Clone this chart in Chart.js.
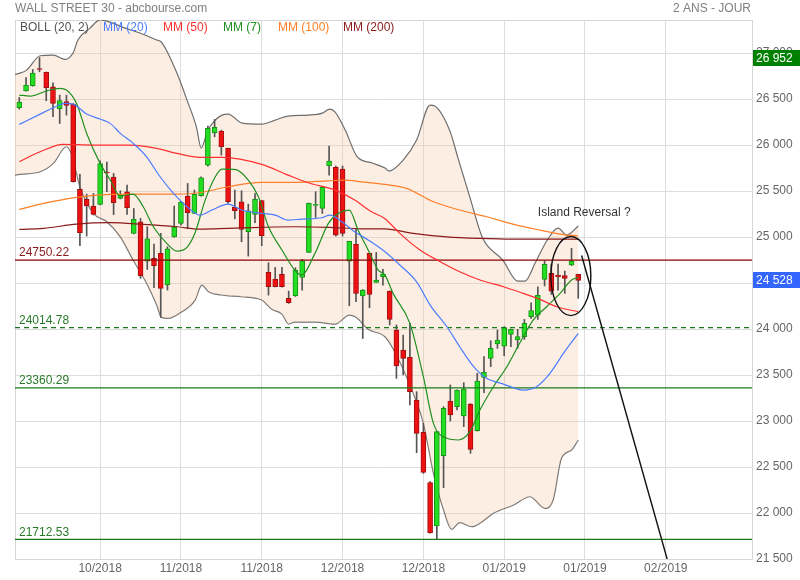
<!DOCTYPE html>
<html>
<head>
<meta charset="utf-8">
<title>Wall Street 30</title>
<script src="https://cdn.jsdelivr.net/npm/chart.js@4.4.1/dist/chart.umd.min.js"></script>
<style>
  html, body { margin: 0; padding: 0; background: #fff; }
  #c { display: block; }
</style>
</head>
<body>
<canvas id="c" width="800" height="580"></canvas>
<script>
// Daily candles (index 0 = first candle on the left)
const opens  = [26406, 26590, 26645, 26828, 26790, 26634, 26395, 26474, 26445, 25518,
                25409, 25337, 25355, 25703, 25652, 25420, 25493, 25040, 25166, 24739,
                24768, 24822, 24482, 25003, 25148, 25445, 25257, 25449, 25782, 26134,
                26152, 25964, 25322, 25384, 25058, 25246, 25398, 24616, 24543, 24594,
                24333, 24362, 24561, 24833, 25345, 25311, 25775, 25757, 25739, 24739,
                24920, 24359, 24822, 24507, 24569, 24413, 23989, 23772, 23692, 23229,
                22877, 22330, 21859, 22624, 23218, 23156, 23055, 23185, 22895, 23475,
                23681, 23837, 23815, 23942, 23881, 23917, 24134, 24152, 24540, 24605,
                24587, 24580, 24696, 24594];
const highs  = [26518, 26735, 26822, 26952, 26795, 26677, 26543, 26543, 26450, 25681,
                25467, 25474, 25829, 25815, 25692, 25503, 25565, 25311, 25203, 25112,
                24924, 25040, 24895, 25337, 25385, 25583, 25511, 25656, 26206, 26279,
                26163, 25968, 25511, 25503, 25358, 25474, 25400, 24721, 24670, 24670,
                24413, 24666, 24757, 25370, 25493, 25547, 25989, 25772, 25772, 24955,
                25094, 24430, 24825, 24833, 24648, 24415, 24044, 23935, 24062, 23319,
                22975, 22341, 22884, 23156, 23392, 23340, 23417, 23190, 23518, 23700,
                23873, 23989, 24026, 24000, 23997, 24105, 24286, 24460, 24739, 24707,
                24707, 24631, 24877, 24596];
const lows   = [26391, 26585, 26640, 26797, 26482, 26308, 26235, 26326, 25598, 24906,
                25011, 25240, 25350, 25493, 25243, 25415, 25246, 25035, 24551, 24648,
                24449, 24127, 24424, 24998, 25130, 25090, 25255, 25445, 25772, 26090,
                25891, 25366, 25199, 24949, 24793, 25156, 24906, 24369, 24458, 24455,
                24279, 24355, 24424, 24830, 25214, 25257, 25674, 25011, 25011, 24253,
                24297, 23898, 24232, 24505, 24478, 24044, 23464, 23500, 23174, 22656,
                22431, 21780, 21712.53, 22276, 23000, 23120, 22939, 22649, 22890, 23308,
                23591, 23790, 23710, 23808, 23790, 23888, 24116, 24105, 24468, 24377,
                24424, 24388, 24690, 24334];
const closes = [26467, 26652, 26782, 26822, 26623, 26453, 26485, 26431, 25601, 25047,
                25340, 25246, 25800, 25697, 25373, 25453, 25319, 25192, 24580, 24982,
                24688, 24442, 24873, 25112, 25380, 25264, 25464, 25645, 26181, 26192,
                25982, 25384, 25286, 25083, 25286, 25409, 25014, 24460, 24460, 24460,
                24286, 24641, 24743, 25366, 25350, 25540, 25826, 25021, 25040, 24953,
                24388, 24424, 24377, 24533, 24598, 24105, 23598, 23681, 23319, 22866,
                22442, 21787, 22884, 23138, 23066, 23337, 23348, 22692, 23435, 23529,
                23790, 23881, 24015, 23997, 23917, 24062, 24200, 24366, 24703, 24413,
                24569, 24551, 24739, 24528];

// Indicators as [candle index, value]
const bollUpper = [[-0.64, 26769], [0, 26780], [1.1, 26815], [3.1, 26971], [5.05, 26978], [6.8, 26932],
  [8, 27004], [8.7, 27142], [10.5, 27272], [12, 27365], [13.5, 27337], [15.3, 27283], [17.9, 27218],
  [20.4, 27142], [21.1, 27120], [23.4, 26783], [24.9, 26489], [26.3, 26196], [27, 25968], [28, 26163],
  [29.1, 26272], [30.1, 26326], [31, 26337], [33.1, 26239], [36, 26228], [38, 26272], [39.9, 26315],
  [42.9, 26326], [45, 26348], [46.1, 26392], [46.9, 26359], [48.4, 26163], [50.1, 25881], [52.4, 25805],
  [54.3, 25750], [54.9, 25718], [57, 25837], [59, 26055], [61, 26435], [61.7, 26424], [64, 26141],
  [65.1, 25870], [66.9, 25435], [68.8, 24989], [71.8, 24750], [74, 24522], [75.1, 24522], [76.6, 24718],
  [78.4, 24968], [80, 25098], [81.3, 25022], [83, 25120]];
const bollLower = [[-0.64, 25674], [0, 25682], [3.1, 25710], [5.05, 25801], [7, 25982], [7.8, 25891],
  [9, 25547], [11, 25258], [13, 25167], [15, 25003], [16.9, 24750], [18.9, 24497], [20.4, 24261],
  [21.1, 24127], [22.1, 24116], [23.9, 24177], [26.1, 24315], [27.1, 24478], [28.1, 24406], [30, 24370],
  [33, 24351], [36, 24315], [37.5, 24214], [39, 24163], [40, 24054], [40.9, 24076], [43.9, 24076],
  [46.9, 24054], [49, 24152], [50, 24127], [51.8, 23997], [54.3, 23916], [55.6, 23772], [58.5, 23301],
  [60, 22975], [61.5, 22432], [63, 22033], [64.2, 21823], [65.4, 21895], [67.2, 21851], [68.4, 21888],
  [70.4, 21997], [73.4, 22087], [75.8, 22177], [78.1, 22051], [79.3, 22149], [80.5, 22595], [82, 22685],
  [83, 22794]];
const mm20 = [[0, 26225], [3.1, 26337], [5.05, 26406], [6.8, 26453], [8, 26445], [10, 26337], [12, 26283],
  [13.5, 26236], [15, 26127], [16.9, 26019], [18.9, 25873], [20.9, 25656], [22.9, 25475], [24.9, 25330],
  [26.8, 25239], [28.6, 25294], [31, 25359], [33, 25294], [36, 25258], [38, 25239], [39.9, 25185],
  [41.9, 25196], [44.9, 25210], [46.1, 25239], [47.9, 25167], [49.8, 25058], [51.8, 24968], [54.3, 24840],
  [56.5, 24696], [59, 24514], [61, 24261], [63.5, 24025], [65.4, 23808], [67.4, 23598], [69.4, 23464],
  [71.9, 23402], [74.8, 23337], [76.8, 23373], [78.8, 23519], [80.8, 23736], [83, 23953]];
const mm50 = [[0, 25819], [3.1, 25927], [6.5, 26008], [11, 26000], [16.4, 26000], [20.4, 25964],
  [23.4, 25910], [26.8, 25866], [30.1, 25866], [36, 25790], [39.9, 25674], [42.9, 25590], [46.9, 25511],
  [49.8, 25402], [52.3, 25275], [54.3, 25200], [56.5, 25040], [59.5, 24859], [62.5, 24732], [65.4, 24623],
  [68.4, 24533], [71.9, 24460], [74.8, 24388], [77.3, 24323], [79.8, 24243], [83, 24188]];
const mm7 = [[0, 26544], [1.6, 26533], [4.1, 26590], [6, 26616], [7, 26598], [8.5, 26453], [10, 26127],
  [12, 25801], [13.5, 25620], [15, 25446], [16.9, 25468], [18.4, 25330], [19.9, 25112], [21.9, 24932],
  [23.4, 24848], [24.9, 24888], [26.1, 25047], [27.6, 25402], [29.1, 25656], [30.1, 25739], [32, 25736],
  [34, 25620], [35.5, 25438], [37, 25112], [39, 24859], [40.9, 24641], [41.9, 24587], [43.9, 24823],
  [45.9, 25149], [47.4, 25258], [49, 25294], [50.3, 25076], [51.8, 24859], [53.3, 24641], [54.3, 24587],
  [55.5, 24388], [58, 24062], [60, 23482], [61.5, 22975], [63.5, 22812], [65.2, 22794], [66.9, 22884],
  [68.4, 23120], [70.4, 23373], [72.4, 23590], [74.3, 23845], [76.3, 24098], [78.3, 24243], [80.3, 24388],
  [82, 24533], [83, 24562]];
const mm100 = [[0, 25301], [3.6, 25366], [8.5, 25432], [13.5, 25464], [18.4, 25468], [23.4, 25468],
  [26.8, 25482], [31, 25547], [36, 25595], [40.9, 25595], [45.9, 25612], [48.4, 25620], [50.8, 25601],
  [54.3, 25573], [57.5, 25530], [61.5, 25384], [65.4, 25294], [69.4, 25221], [73.3, 25141], [77.3, 25076],
  [80.3, 25033], [83, 25011]];
const mm200 = [[0, 25084], [3.6, 25095], [8.5, 25141], [13.5, 25156], [18.4, 25138], [23.4, 25112],
  [26.8, 25087], [31, 25095], [36, 25106], [40.9, 25112], [45.9, 25106], [50.8, 25090], [54.3, 25090],
  [58.5, 25040], [63.5, 25003], [68.4, 24986], [73.3, 24978], [78.3, 24978], [83, 24978]];

// Support / resistance levels and the hand-drawn trend line
const levels = [24750.22, 24014.78, 23360.29, 21712.53];
const trendLine = [[83.5, 24800], [96.2, 21500]];
const islandCenter = [81.9, 24576];
const islandRadius = [2.97, 430];

// Axes
const xTicks = [12, 24, 36, 48, 60, 72, 84, 96];
const xTickLabels = ['10/2018', '11/2018', '11/2018', '12/2018', '12/2018', '01/2019', '01/2019', '02/2019'];
const yTicks = [21500, 22000, 22500, 23000, 23500, 24000, 24500, 25000, 25500, 26000, 26500, 27000];
const xMin = -0.64, xMax = 108.8, yMin = 21500, yMax = 27360;

const FONT = '"Liberation Sans", Arial, sans-serif';
const fmt = v => String(v).replace(/\B(?=(\d{3})+(?!\d))/g, ' ');
const toXY = pts => pts.map(([x, y]) => ({ x, y }));
const up = opens.map((o, i) => closes[i] >= o);

const lineDs = (data, color, extra) => Object.assign({
  type: 'line', data, borderColor: color, borderWidth: 1.2, pointRadius: 0,
  fill: false, cubicInterpolationMode: 'monotone', order: 4
}, extra || {});

const levelStyles = [
  { color: '#8b0000', dash: [], label: '#8b1a1a' },
  { color: '#1a7a1a', dash: [5, 4], label: '#2a7a2a' },
  { color: '#1a7a1a', dash: [], label: '#2a7a2a' },
  { color: '#1a7a1a', dash: [], label: '#2a7a2a' }
];

const datasets = [
  lineDs(toXY(bollUpper), '#6e6e6e', { fill: '+1', backgroundColor: 'rgba(250,200,165,0.3)', order: 10 }),
  lineDs(toXY(bollLower), '#6e6e6e', { order: 10 }),
  {
    type: 'bar', data: lows.map((l, i) => ({ x: i, y: [l, highs[i]] })),
    backgroundColor: '#555', barThickness: 1, grouped: false, order: 9
  },
  {
    type: 'bar', data: opens.map((o, i) => ({ x: i, y: [o, closes[i]] })),
    backgroundColor: up.map(u => u ? '#22dd22' : '#ee1111'),
    borderColor: up.map(u => u ? '#169416' : '#a01010'),
    borderWidth: 1, borderSkipped: false, barThickness: 5, minBarLength: 1,
    grouped: false, order: 8
  },
  ...levels.map((lvl, i) => lineDs([{ x: xMin, y: lvl }, { x: xMax, y: lvl }], levelStyles[i].color,
    { borderDash: levelStyles[i].dash, borderWidth: 1.3, order: 6 })),
  lineDs(toXY(mm20), '#4a7cff'),
  lineDs(toXY(mm50), '#ff3030'),
  lineDs(toXY(mm7), '#1f8f1f'),
  lineDs(toXY(mm100), '#ff7f27'),
  lineDs(toXY(mm200), '#8b1a1a'),
  lineDs(toXY(trendLine), '#111', { borderWidth: 1.4, cubicInterpolationMode: 'default', order: 2 })
];

const overlay = {
  id: 'overlay',
  beforeDatasetsDraw(chart) {
    const { ctx, chartArea: ca } = chart;
    ctx.save();
    ctx.strokeStyle = '#d6d6d6';
    ctx.lineWidth = 1;
    ctx.strokeRect(ca.left + 0.5, ca.top + 0.5, ca.right - ca.left, ca.bottom - ca.top);
    ctx.restore();
  },
  afterDatasetsDraw(chart) {
    const { ctx, chartArea: ca, scales: { x, y } } = chart;
    ctx.save();
    // level labels
    ctx.font = '12px ' + FONT;
    ctx.textAlign = 'left';
    ctx.textBaseline = 'bottom';
    levels.forEach((lvl, i) => {
      ctx.fillStyle = levelStyles[i].label;
      ctx.fillText(lvl.toFixed(2), ca.left + 4, y.getPixelForValue(lvl) - 1);
    });
    // island reversal annotation
    ctx.strokeStyle = '#111';
    ctx.lineWidth = 1.4;
    ctx.beginPath();
    const cx = x.getPixelForValue(islandCenter[0]);
    const cy = y.getPixelForValue(islandCenter[1]);
    const rx = Math.abs(x.getPixelForValue(islandCenter[0] + islandRadius[0]) - cx);
    const ry = Math.abs(y.getPixelForValue(islandCenter[1] + islandRadius[1]) - cy);
    ctx.ellipse(cx, cy, rx, ry, 0, 0, Math.PI * 2);
    ctx.stroke();
    ctx.fillStyle = '#333';
    ctx.textBaseline = 'middle';
    ctx.fillText('Island Reversal ?', x.getPixelForValue(77), y.getPixelForValue(25264));
    ctx.restore();
  },
  afterDraw(chart) {
    const { ctx, chartArea: ca, scales: { y } } = chart;
    ctx.save();
    ctx.font = '12px ' + FONT;
    ctx.textBaseline = 'middle';
    // title row
    ctx.fillStyle = '#808080';
    ctx.textAlign = 'left';
    ctx.fillText('WALL STREET 30 - abcbourse.com', 15, 9);
    ctx.textAlign = 'right';
    ctx.fillText('2 ANS - JOUR', 751, 9);
    // legend row
    ctx.textAlign = 'left';
    [['BOLL (20, 2)', '#555', 20], ['MM (20)', '#4a7cff', 103], ['MM (50)', '#ff3030', 163],
     ['MM (7)', '#1f8f1f', 223], ['MM (100)', '#ff7f27', 278], ['MM (200)', '#8b1a1a', 343]]
      .forEach(([t, c, px]) => { ctx.fillStyle = c; ctx.fillText(t, px, 28); });
    // price badges on the right axis
    const badge = (val, color) => {
      const py = Math.round(y.getPixelForValue(val));
      ctx.fillStyle = color;
      ctx.fillRect(ca.right + 1, py - 8, chart.width - ca.right - 1, 16);
      ctx.fillStyle = '#fff';
      ctx.fillText(fmt(Math.round(val)), ca.right + 4, py + 0.5);
    };
    badge(Math.max(...highs), '#008000');
    badge(closes[closes.length - 1], '#3366ff');
    ctx.restore();
  }
};

new Chart(document.getElementById('c'), {
  type: 'line',
  data: { datasets },
  plugins: [overlay],
  options: {
    responsive: false,
    animation: false,
    events: [],
    layout: { padding: { top: 20, left: 15, right: 0, bottom: 0 } },
    plugins: { legend: { display: false }, tooltip: { enabled: false } },
    scales: {
      x: {
        type: 'linear', min: xMin, max: xMax, offset: false,
        afterBuildTicks: axis => { axis.ticks = xTicks.map(v => ({ value: v })); },
        afterFit: axis => { axis.height = 21; },
        grid: { color: '#dddddd', drawTicks: false, offset: false },
        border: { color: '#cccccc' },
        ticks: {
          autoSkip: false, maxRotation: 0, padding: 2, color: '#666',
          font: { family: FONT, size: 12 },
          callback: v => xTickLabels[xTicks.indexOf(v)]
        }
      },
      y: {
        type: 'linear', position: 'right', min: yMin, max: yMax,
        afterBuildTicks: axis => { axis.ticks = yTicks.map(v => ({ value: v })); },
        afterFit: axis => { axis.width = 48; },
        grid: { color: '#dddddd', drawTicks: false },
        border: { color: '#d6d6d6' },
        ticks: {
          padding: 4, color: '#666', font: { family: FONT, size: 12 },
          callback: v => fmt(v)
        }
      }
    }
  }
});
</script>
</body>
</html>
